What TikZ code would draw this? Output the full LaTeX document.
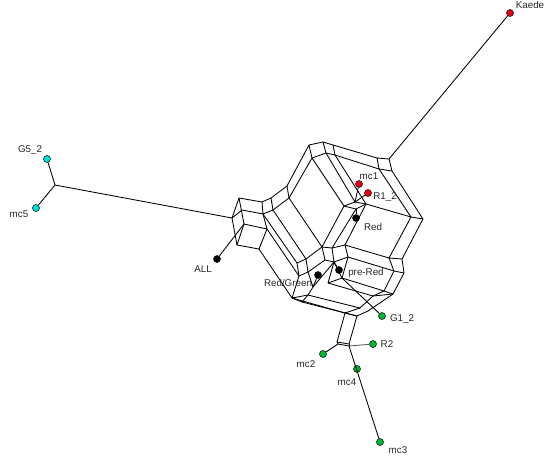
\documentclass[tikz,border=0pt]{standalone}
\usepackage{fontspec}
\setmainfont{Liberation Sans}
\tikzset{
  x=1pt,y=-1pt,
  net/.style={draw=black,line width=0.85pt,line join=round},
  taxon/.style={circle,draw=black,line width=0.5pt,minimum size=7pt,inner sep=0pt},
  lab/.style={font=\fontsize{9.8}{11}\selectfont,text=black!85,inner sep=0pt}
}
\definecolor{tred}{RGB}{235,0,20}
\definecolor{tgreen}{RGB}{0,185,50}
\definecolor{tcyan}{RGB}{0,225,225}
\newcommand{\edges}[1]{\foreach \u/\v in {#1}{\draw[net] (\u) -- (\v);}}
\begin{document}
\begin{tikzpicture}
\useasboundingbox (0,0) rectangle (547,456);
\foreach \n/\a/\b in {
 a1/239/198,a2/262/202,a3/232/218,a4/242/210,a5/263/214,a6/244/224,a7/267/229,a8/237/245,a9/259/249,
 b1/271/198,b2/273/210,b3/287/186,b4/289/198,
 c1/309/145,c2/323/142,c3/333/145,c4/312/158,c5/326/153,c6/335/155,
 d1/377/158,d2/389/159,d3/379/169,d4/392/171,d5/411/217,d6/423/219,
 e1/344/206,e2/355/202,e3/366/204,e4/356/209,
 f1/322/247,f2/332/248,f3/345/245,f4/348/257,f5/342/278,f6/328/283,f7/325/260,f8/334/262,
 g1/297/263,g2/306/259,g3/299/276,g4/308/272,g5/313/287,g6/308/295,g7/302/302,g8/292/298,
 h1/389/258,h2/402/259,h3/394/271,h4/404/273,h5/384/291,h6/393/294,h7/373/296,
 i1/360/308,i2/368/311,i3/345/313,i4/357/316,i5/337/342,i6/349/344,i7/338/344,i8/349/346,
 s1/55/185}{\coordinate (\n) at (\a,\b);}
\edges{a1/a2,a1/a3,a1/a6,a3/a4,a4/a5,a2/a5,a5/a7,a6/a7,a3/a8,a6/a8,a8/a9,a7/a9,
 a2/b1,b1/b3,b3/b4,b1/b2,b2/b4,a5/b2,
 b3/c1,b4/c4,c1/c4,c1/c2,c4/c5,c2/c5,c2/c3,c3/c6,c5/c6,c3/d1,d1/d2,c6/d3,d1/d3,d2/d4,d3/d4,
 d3/d5,d4/d6,d5/d6,c6/e3,c5/e2,c4/e1,e1/e2,e2/e3,e1/e4,e4/e3,e3/d5,
 e1/f1,e4/f2,e3/f3,d5/h1,d6/h2,
 a5/g1,a7/g3,b2/g2,b4/f1,a9/g8,
 f1/f2,f2/f3,f3/f4,f1/f7,f2/f8,f7/f8,f4/f8,f4/f5,f5/f6,f8/f5,f8/f6,f8/g5,
 g1/g2,g2/f1,g1/g3,g2/g4,g3/g4,g4/f7,g4/g5,g5/g6,g6/g7,g3/g8,g8/g6,g8/g7,
 f3/h1,f4/h3,h1/h2,h1/h3,h2/h4,h3/h4,h3/h5,h4/h6,h5/h6,h5/h7,h7/h6,f5/h5,f6/h7,
 g6/i1,g7/i4,g8/i3,h7/i1,i1/i3,h6/i2,i2/i4,i3/i4,
 i3/i5,i4/i6,i5/i6,i7/i8,i5/i7,i6/i8}
\node[taxon,fill=tred] (kaede) at (510,13) {};
\node[taxon,fill=tred] (mc1) at (359,184) {};
\node[taxon,fill=tred] (r12) at (368,193) {};
\node[taxon,fill=black] (red) at (356,218) {};
\node[taxon,fill=black] (prered) at (339,270) {};
\node[taxon,fill=black] (redgreen) at (318,275) {};
\node[taxon,fill=black] (all) at (217,259) {};
\node[taxon,fill=tgreen] (g12) at (382,316) {};
\node[taxon,fill=tgreen] (r2) at (373,344) {};
\node[taxon,fill=tgreen] (mc2) at (323,354) {};
\node[taxon,fill=tgreen] (mc4) at (357,369) {};
\node[taxon,fill=tgreen] (mc3) at (380,442) {};
\node[taxon,fill=tcyan] (g52) at (47,159) {};
\node[taxon,fill=tcyan] (mc5) at (36,208) {};
\draw[net] (d2) -- (kaede);
\draw[net] (e2) -- (mc1);
\draw[net] (e2) -- (r12);
\draw[net] (e4) -- (red);
\draw[net] (f8) -- (prered);
\draw[net] (g5) -- (redgreen);
\draw[net] (a6) -- (all);
\draw[net] (f5) -- (g12);
\draw[net,draw=black!65] (i8) -- (r2);
\draw[net] (i7) -- (mc2);
\draw[net] (i8) -- (mc3);
\draw[net] (a3) -- (s1);
\draw[net] (s1) -- (g52);
\draw[net] (s1) -- (mc5);
\node[lab] at (530,5) {Kaede};
\node[lab] at (369,176) {mc1};
\node[lab] at (385,197) {R1\_2};
\node[lab] at (373,227) {Red};
\node[lab] at (366,273) {pre-Red};
\node[lab] at (288,283) {Red/Green};
\node[lab] at (402,319) {G1\_2};
\node[lab] at (387,344) {R2};
\node[lab] at (306,364) {mc2};
\node[lab] at (347,382) {mc4};
\node[lab] at (398,450) {mc3};
\node[lab] at (203,269) {ALL};
\node[lab] at (30,150) {G5\_2};
\node[lab] at (19,214) {mc5};
\end{tikzpicture}
\end{document}
